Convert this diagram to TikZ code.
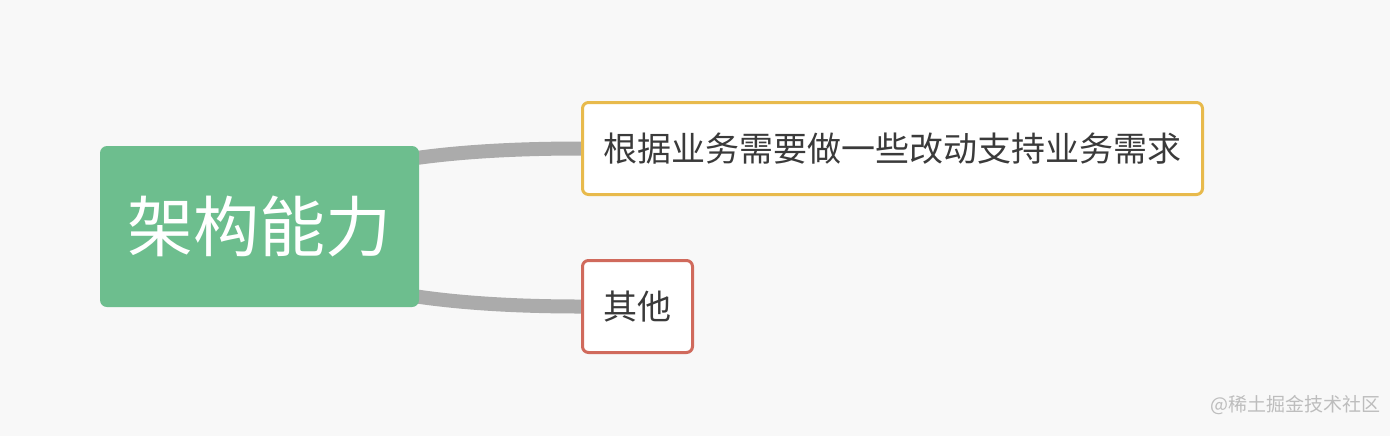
\documentclass[tikz,border=0pt]{standalone}
\usepackage{fontspec}
\setmainfont{Noto Sans CJK SC}
\usepackage{xcolor}
\usetikzlibrary{positioning}
\definecolor{pagebg}{HTML}{F8F8F8}
\definecolor{rootgreen}{HTML}{6DBE8E}
\definecolor{linkgray}{HTML}{ABABAB}
\definecolor{leafyellow}{HTML}{E8BA4C}
\definecolor{leafred}{HTML}{D06A5C}
\definecolor{leaftext}{HTML}{3A3A3A}
\definecolor{marktext}{HTML}{BDBDBD}
\pgfdeclarelayer{bg}
\pgfdeclarelayer{links}
\pgfsetlayers{bg,links,main}

\begin{document}
\begin{tikzpicture}[x=0.5pt,y=-0.5pt,
    rootbox/.style={shape=rectangle,fill=rootgreen,rounded corners=3.5pt,text=white,
      font=\fontsize{33}{36}\selectfont,minimum width=159.5pt,minimum height=80.5pt,inner sep=0pt},
    leafbox/.style={shape=rectangle,draw=#1,line width=1.5pt,fill=white,rounded corners=3pt,
      text=leaftext,font=\fontsize{17}{20}\selectfont,minimum height=46pt,inner sep=0pt},
    link/.style={draw=linkgray,line width=7pt}]
      %page
\begin{pgfonlayer}{bg}
\fill[pagebg] (0,0) rectangle (1390,436);
\end{pgfonlayer}
\useasboundingbox (0,0) rectangle (1390,436);

\draw node (root) at (259.5,226.5) [rootbox]{架构能力};
\draw node (need) at (892.5,148.5) [leafbox=leafyellow,minimum width=310pt]{根据业务需要做一些改动支持业务需求};
\draw node (other) at (637.5,306.5) [leafbox=leafred,minimum width=55pt]{其他};
\draw node (mark) at (1295,405) [text=marktext,font=\fontsize{9.5}{11}\selectfont]{@稀土掘金技术社区};

\begin{pgfonlayer}{links}
\draw[link] (root.center) .. controls (290,174.5) and (397,148.5) .. (need.west);
\draw[link] (root.center) .. controls (290,278.5) and (397,306.5) .. (other.west);
\end{pgfonlayer}
\end{tikzpicture}
\end{document}
